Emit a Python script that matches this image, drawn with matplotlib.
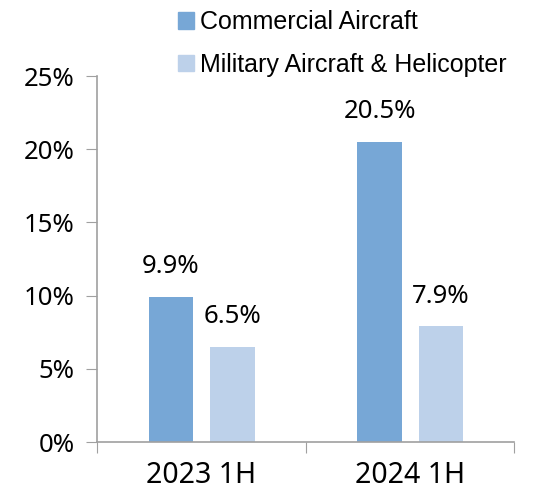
import numpy as np
import matplotlib.pyplot as plt
from matplotlib.patches import Patch

# data
categories = ["2023 1H", "2024 1H"]
series_names = ["Commercial Aircraft", "Military Aircraft & Helicopter"]
commercial = [9.9, 20.5]
military = [6.5, 7.9]
colors = ["#77A7D6", "#BDD1EA"]
y_ticks = [0, 5, 10, 15, 20, 25]

plt.rcParams["font.family"] = ["Noto Sans", "DejaVu Sans"]

fig = plt.figure(figsize=(5.51, 4.93), dpi=100)
ax = fig.add_axes([97 / 551, 1 - 442 / 493, (514 - 97) / 551, (442 - 76) / 493])

x = np.arange(len(categories))
width = 0.214
offsets = [-0.145, 0.15]
for vals, off, col in zip([commercial, military], offsets, colors):
    bars = ax.bar(x + off, vals, width, color=col)
    for b, v in zip(bars, vals):
        ax.text(b.get_x() + b.get_width() / 2, v + 1.2, f"{v:.1f}%",
                ha="center", va="bottom", fontsize=18.5)

ax.set_xlim(-0.5, 1.5)
ax.set_ylim(0, 25)
ax.set_yticks(y_ticks)
ax.set_yticklabels([f"{t}%" for t in y_ticks], fontsize=18.5)
ax.set_xticks([-0.5, 0.5, 1.5])
ax.set_xticklabels([])
ax.set_xticks(x, minor=True)
ax.set_xticklabels(categories, minor=True, fontsize=20.5)
ax.tick_params(axis="x", which="minor", length=0, pad=14)
ax.tick_params(axis="x", which="major", length=8, color="#A0A0A0", direction="out")
ax.tick_params(axis="y", length=8, color="#A0A0A0", pad=8)

for s in ["top", "right"]:
    ax.spines[s].set_visible(False)
for s in ["left", "bottom"]:
    ax.spines[s].set_color("#A0A0A0")
    ax.spines[s].set_linewidth(1.2)

handles = [Patch(color=c) for c in colors]
fig.legend(handles, series_names, loc="upper left", bbox_to_anchor=(155 / 551, 1.025),
           frameon=False, handlelength=0.65, handleheight=0.65,
           handletextpad=0.25, labelspacing=0.75, prop={"family": "Liberation Sans", "size": 18})

fig.savefig("out.png", dpi=100)
